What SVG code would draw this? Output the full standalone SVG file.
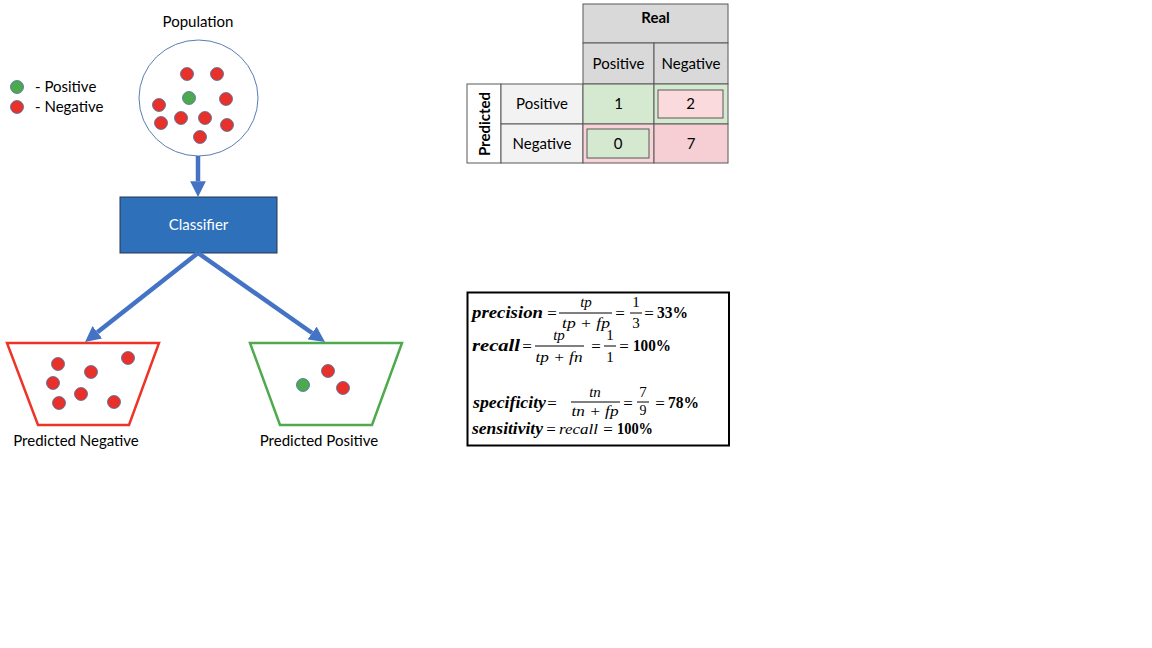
<svg xmlns="http://www.w3.org/2000/svg" width="1152" height="648" viewBox="0 0 1152 648">
<defs>
<style>
.lbl{font-family:Lato,"Open Sans","Liberation Sans",sans-serif;font-size:15px;fill:#000}
.tb{font-family:Lato,"Open Sans","Liberation Sans",sans-serif;font-size:15px;fill:#000;text-anchor:middle}
.neg{fill:#E8312A;stroke:#41719C;stroke-width:0.8}
.pos{fill:#4EA84E;stroke:#41719C;stroke-width:0.8}
.arr{stroke:#4472C4;stroke-width:4.5;fill:none;marker-end:url(#ah)}
.mb{font-family:"Liberation Serif",serif;font-weight:bold;font-style:italic;font-size:16.5px}
.mi{font-family:"Liberation Serif",serif;font-style:italic;font-size:15px;text-anchor:middle}
.mn{font-family:"Liberation Serif",serif;font-size:15px;text-anchor:middle}
.eq{font-family:"Liberation Serif",serif;font-size:17px;text-anchor:middle}
.md{font-family:"Liberation Serif",serif;font-weight:bold;font-size:16.5px}
.bar{stroke:#000;stroke-width:1}
.cell{stroke:#595959;stroke-width:1}
</style>
<marker id="ah" viewBox="0 0 10 10" refX="0" refY="5" markerWidth="3.5" markerHeight="3.5" orient="auto" markerUnits="strokeWidth">
<path d="M0,0 L10,5 L0,10 z" fill="#4472C4"/>
</marker>
</defs>
<rect width="1152" height="648" fill="#fff"/>

<g id="legend">
<circle class="pos" cx="17" cy="87" r="6.5"/>
<circle class="neg" cx="17" cy="107" r="6.5"/>
<text class="lbl" x="35" y="92">- Positive</text>
<text class="lbl" x="35" y="112">- Negative</text>
</g>

<g id="population">
<text class="tb" x="198" y="27">Population</text>
<ellipse cx="198.5" cy="98" rx="59.5" ry="58" fill="#fff" stroke="#5B7DB1" stroke-width="1"/>
<circle class="neg" cx="187" cy="74" r="6.5"/>
<circle class="neg" cx="217" cy="74" r="6.5"/>
<circle class="pos" cx="189" cy="98" r="6.5"/>
<circle class="neg" cx="226" cy="99" r="6.5"/>
<circle class="neg" cx="159" cy="105" r="6.5"/>
<circle class="neg" cx="161" cy="123" r="6.5"/>
<circle class="neg" cx="181" cy="118" r="6.5"/>
<circle class="neg" cx="205" cy="118" r="6.5"/>
<circle class="neg" cx="227" cy="125" r="6.5"/>
<circle class="neg" cx="200" cy="137" r="6.5"/>
</g>

<g id="classifier">
<rect x="120" y="197" width="157" height="56" fill="#2E70BA" stroke="#26364F" stroke-width="1"/>
<text class="tb" x="198.5" y="230" style="fill:#fff">Classifier</text>
</g>

<g id="predicted-negative">
<polygon points="7,343 159,343 129,425 38,425" fill="#fff" stroke="#EE3427" stroke-width="2.5"/>
<circle class="neg" cx="58" cy="364" r="6.5"/>
<circle class="neg" cx="128" cy="358" r="6.5"/>
<circle class="neg" cx="91" cy="372" r="6.5"/>
<circle class="neg" cx="53" cy="383" r="6.5"/>
<circle class="neg" cx="81" cy="394" r="6.5"/>
<circle class="neg" cx="59" cy="403" r="6.5"/>
<circle class="neg" cx="114" cy="402" r="6.5"/>
<text class="tb" x="76" y="446">Predicted Negative</text>
</g>

<g id="predicted-positive">
<polygon points="250,343 402,343 372,425 280,425" fill="#fff" stroke="#4EAA4C" stroke-width="2.5"/>
<circle class="pos" cx="303" cy="385" r="6.5"/>
<circle class="neg" cx="328" cy="371" r="6.5"/>
<circle class="neg" cx="343" cy="388" r="6.5"/>
<text class="tb" x="319" y="446">Predicted Positive</text>
</g>

<g id="connectors">
<line class="arr" x1="198" y1="156" x2="198" y2="181.25"/>
<line class="arr" x1="198" y1="253" x2="97.4" y2="332.3"/>
<line class="arr" x1="198" y1="253" x2="312.1" y2="333"/>
</g>

<g id="confusion-matrix">
<rect class="cell" x="583" y="4" width="145" height="39" fill="#D9D9D9"/>
<rect class="cell" x="583" y="43" width="71" height="41" fill="#D9D9D9"/>
<rect class="cell" x="654" y="43" width="74" height="41" fill="#D9D9D9"/>
<rect class="cell" x="467" y="84" width="34" height="79" fill="#fff"/>
<rect class="cell" x="501" y="84" width="82" height="40" fill="#F2F2F2"/>
<rect class="cell" x="501" y="124" width="82" height="39" fill="#F2F2F2"/>
<rect class="cell" x="583" y="84" width="71" height="40" fill="#D5E8D0"/>
<rect class="cell" x="654" y="84" width="74" height="40" fill="#D5E8D0"/>
<rect x="658" y="90" width="65" height="28" fill="#FADADD" stroke="#595959" stroke-width="1"/>
<rect class="cell" x="583" y="124" width="71" height="39" fill="#F8D3D8"/>
<rect x="587" y="129" width="62" height="29" fill="#D5E8D0" stroke="#595959" stroke-width="1"/>
<rect class="cell" x="654" y="124" width="74" height="39" fill="#F6CFD5"/>
<text class="tb" x="655.5" y="23" font-weight="bold">Real</text>
<text class="tb" x="618.5" y="69">Positive</text>
<text class="tb" x="691" y="69">Negative</text>
<text class="tb" transform="translate(490,124) rotate(-90)" font-weight="bold">Predicted</text>
<text class="tb" x="542" y="109">Positive</text>
<text class="tb" x="542" y="149">Negative</text>
<text class="tb" x="618.5" y="109">1</text>
<text class="tb" x="690.5" y="109">2</text>
<text class="tb" x="618" y="149">0</text>
<text class="tb" x="691" y="149">7</text>
</g>

<g id="formulas">
<rect x="467.5" y="292.5" width="261.5" height="153" fill="#fff" stroke="#000" stroke-width="2"/>
<!-- precision -->
<text class="mb" x="472" y="318" textLength="71" lengthAdjust="spacingAndGlyphs">precision</text>
<text class="eq" x="552" y="319">=</text>
<text class="mi" x="586" y="307">tp</text>
<line class="bar" x1="559" y1="313" x2="612" y2="313"/>
<text class="mi" x="586" y="328" textLength="48" lengthAdjust="spacingAndGlyphs">tp + fp</text>
<text class="eq" x="620" y="319">=</text>
<text class="mn" x="636" y="307">1</text>
<line class="bar" x1="630" y1="313" x2="642" y2="313"/>
<text class="mn" x="636" y="328">3</text>
<text class="eq" x="649" y="319">=</text>
<text class="md" x="657" y="318" textLength="31" lengthAdjust="spacingAndGlyphs">33%</text>
<!-- recall -->
<text class="mb" x="472" y="351" textLength="48" lengthAdjust="spacingAndGlyphs">recall</text>
<text class="eq" x="527" y="352">=</text>
<text class="mi" x="559" y="340">tp</text>
<line class="bar" x1="535" y1="346" x2="584" y2="346"/>
<text class="mi" x="559" y="362" textLength="47" lengthAdjust="spacingAndGlyphs">tp + fn</text>
<text class="eq" x="596" y="352">=</text>
<text class="mn" x="610" y="340">1</text>
<line class="bar" x1="604" y1="346" x2="616" y2="346"/>
<text class="mn" x="610" y="362">1</text>
<text class="eq" x="624" y="352">=</text>
<text class="md" x="633" y="351" textLength="38" lengthAdjust="spacingAndGlyphs">100%</text>
<!-- specificity -->
<text class="mb" x="473" y="408" textLength="73" lengthAdjust="spacingAndGlyphs">specificity</text>
<text class="eq" x="552" y="409">=</text>
<text class="mi" x="595" y="397">tn</text>
<line class="bar" x1="571" y1="402" x2="620" y2="402"/>
<text class="mi" x="595" y="416" textLength="47" lengthAdjust="spacingAndGlyphs">tn + fp</text>
<text class="eq" x="628" y="409">=</text>
<text class="mn" x="643" y="397">7</text>
<line class="bar" x1="637" y1="402" x2="649" y2="402"/>
<text class="mn" x="643" y="415" style="font-size:14px">9</text>
<text class="eq" x="660" y="409">=</text>
<text class="md" x="668" y="408" textLength="31" lengthAdjust="spacingAndGlyphs">78%</text>
<!-- sensitivity -->
<text class="mb" x="472" y="434" textLength="71" lengthAdjust="spacingAndGlyphs">sensitivity</text>
<text class="eq" x="551" y="435">=</text>
<text class="mi" x="559" y="434" style="text-anchor:start" textLength="39" lengthAdjust="spacingAndGlyphs">recall</text>
<text class="eq" x="608" y="435">=</text>
<text class="md" x="617" y="434" textLength="36" lengthAdjust="spacingAndGlyphs">100%</text>
</g>
</svg>
